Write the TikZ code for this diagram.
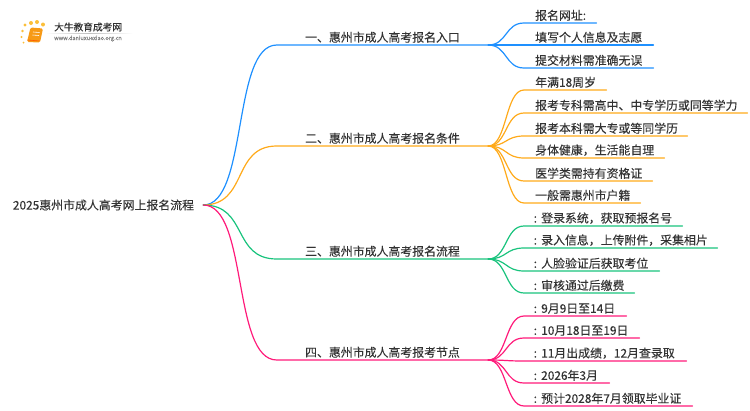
\documentclass[tikz,border=0pt]{standalone}
\usepackage{fontspec}
\setmainfont{Noto Sans CJK SC}[FakeBold=0.12]
\usetikzlibrary{calc}
\definecolor{blueline}{HTML}{1E90FF}
\definecolor{orangeline}{HTML}{FFAA1A}
\definecolor{greenline}{HTML}{19C37D}
\definecolor{pinkline}{HTML}{FF1A7A}
\definecolor{inktext}{HTML}{333333}
\definecolor{bookdots}{HTML}{FBBF3A}
\definecolor{bookfill}{HTML}{F79A16}
\newcommand{\cln}{\makebox[6pt][l]{\hspace{-1.5pt}:}}
\tikzset{
	rootnode/.style = {inner sep = 0pt, text = inktext, font = \fontsize{11.9}{14}\selectfont},
	branchnode/.style = {anchor = south, inner xsep = 0pt, inner ysep = 2pt, minimum width = 211pt, text = inktext, font = \fontsize{11.9}{14}\selectfont},
	leafnode/.style = {anchor = south west, inner xsep = 0pt, inner ysep = 2pt, align = left, text = inktext, font = \fontsize{11.9}{14}\selectfont},
	link/.style = {line width = 1.2pt, line cap = round}
}

\begin{document}
\begin{tikzpicture}[x = 1pt, y = -1pt]
	\useasboundingbox (0,0) rectangle (750,410);

	% logo
	\foreach \dotx/\doty/\dotr in {25/25/1.7, 31/23/2.0, 37/22/2.0, 43/24.5/2.0, 22.5/31/1.4, 21.5/37/1.2, 23.5/42.5/1.0} {
		\fill [bookdots] (\dotx,\doty) circle (\dotr);
	}
	\fill [rounded corners = 1.5pt, bookfill] (30.5,27.5) -- (43,28.5) -- (40,42.5) -- (27,42) -- cycle;
	\draw [white, line width = 0.6pt] (33,32) -- (39.5,32.5);
	\draw [white, line width = 0.6pt] (32.5,35) -- (39,35.5);
	\draw [orange!70!red, line width = 0.6pt] (27.5,40) -- (39.5,41);
	\node [inner sep = 0pt, anchor = west, text = inktext, font = \fontsize{9.7}{11}\selectfont] (logotitle) at (54,27) {大牛教育成考网};
	\node [inner sep = 0pt, anchor = west, text = gray, font = \fontsize{5.6}{7}\selectfont] (logourl) at (54,38.5) {www.daniuxuexiao.org.cn};
	\shade [left color = white, right color = white, middle color = black!25] (45,33) rectangle (133,33.6);

	% root
	\node [rootnode] (root) at (103.5,205) {2025惠州市成人高考网上报名流程};

	% branches
	\foreach \name/\y/\col/\txt in {
		one/45/blueline/一、惠州市成人高考报名入口,
		two/146/orangeline/二、惠州市成人高考报名条件,
		three/259/greenline/三、惠州市成人高考报名流程,
		four/360/pinkline/四、惠州市成人高考报考节点} {
		\node [branchnode] (\name) at (382.5,\y) {\txt};
		\draw [link, \col] (root.east) ++(9,0) .. controls +(45,0) and ($(\name.south west)+(-45,0)$) .. (\name.south west) -- (\name.south east);
	}

	% leaves
	\foreach \parent/\col/\name/\y/\w/\txt in {
		one/blueline/a/23/61/报名网址:,
		one/blueline/b/45/118/填写个人信息及志愿,
		one/blueline/c/68/118/提交材料需准确无误,
		two/orangeline/d/90/71/年满18周岁,
		two/orangeline/e/113/212/报考专科需高中、中专学历或同等学力,
		two/orangeline/f/136/152/报考本科需大专或等同学历,
		two/orangeline/g/158/129/身体健康，生活能自理,
		two/orangeline/h/181/117/医学类需持有资格证,
		two/orangeline/i/203/105/一般需惠州市户籍,
		three/greenline/j/226/147/\cln 登录系统，获取预报名号,
		three/greenline/k/248/182/\cln 录入信息，上传附件，采集相片,
		three/greenline/l/271/124/\cln 人脸验证后获取考位,
		three/greenline/m/293/99/\cln 审核通过后缴费,
		four/pinkline/n/316/91/\cln 9月9日至14日,
		four/pinkline/o/338/104/\cln 10月18日至19日,
		four/pinkline/p/361/151/\cln 11月出成绩，12月查录取,
		four/pinkline/q/383/74/\cln 2026年3月,
		four/pinkline/r/406/157/\cln 预计2028年7月领取毕业证} {
		\node [leafnode, text width = \w pt] (\name) at (535,\y) {\txt};
		\draw [link, \col] (\parent.south east) .. controls +(19,0) and ($(\name.south west)+(-30,0)$) .. ($(\name.south west)+(-11,0)$) -- (\name.south east);
	}
\end{tikzpicture}
\end{document}
